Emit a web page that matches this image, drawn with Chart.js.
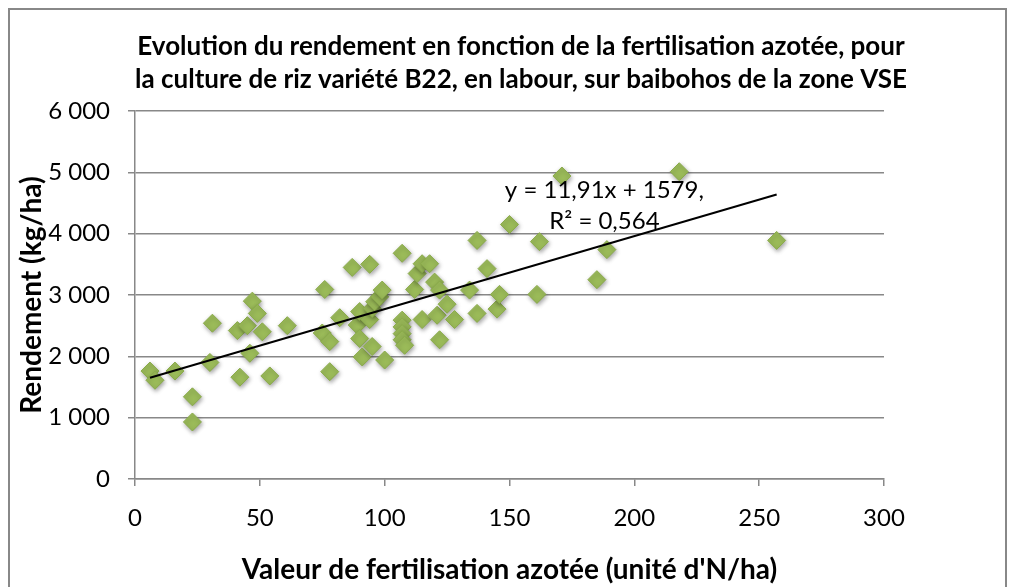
<!DOCTYPE html>
<html>
<head>
<meta charset="utf-8">
<script src="https://cdn.jsdelivr.net/npm/chart.js@4.4.1/dist/chart.umd.min.js"></script>
<style>
  html, body { margin: 0; padding: 0; background: #fff; overflow: hidden; }
</style>
</head>
<body>
<canvas id="rendementChart" width="1010" height="587"></canvas>
<script>
// ---- données ----
const fertilisation = [6, 8, 16, 23, 23, 31, 30, 41, 42, 45, 47, 49, 51, 46, 54, 61,
  75, 76, 78, 78, 82, 87, 94, 89, 90, 90, 91, 94, 95, 96, 95, 98, 99, 100,
  107, 107, 107, 107, 107, 108, 112, 113, 115, 118, 115, 120, 121, 122, 122,
  125, 128, 134, 137, 137, 141, 145, 146, 150, 161, 162, 171, 185, 189, 218, 257];
const rendement = [1760, 1610, 1760, 1340, 930, 2540, 1900, 2420, 1660, 2500, 2900, 2700, 2400, 2050, 1680, 2500,
  2380, 3090, 2240, 1750, 2630, 3450, 3500, 2510, 2730, 2290, 1990, 2600, 2780, 2890, 2160, 2970, 3080, 1940,
  3680, 2590, 2480, 2370, 2270, 2180, 3090, 3350, 3510, 3510, 2600, 3210, 2670, 3080, 2270,
  2850, 2600, 3080, 3890, 2700, 3430, 2770, 3010, 4150, 3010, 3870, 4940, 3250, 3740, 5010, 3890];
const xTicks = [0, 50, 100, 150, 200, 250, 300];
const yTicks = [0, 1000, 2000, 3000, 4000, 5000, 6000];

// courbe de tendance linéaire (Excel)
const pente = 11.91;
const ordonnee = 1579;
const r2 = 0.564;

const titreLignes = [
  'Evolution du rendement en fonction de la fertilisation azotée, pour',
  'la culture de riz variété B22, en labour, sur baibohos de la zone VSE'
];

const police = 'Lato, "Open Sans", sans-serif';
const gris = '#888888';

Chart.defaults.font.family = police;
Chart.defaults.color = '#000';

const formatFr = v => String(v).replace(/\B(?=(\d{3})+(?!\d))/g, ' ');
const virgule = v => String(v).replace('.', ',');

const xMin = Math.min(...fertilisation);
const xMax = Math.max(...fertilisation);

// fond blanc + cadre du graphique
const cadrePlugin = {
  id: 'cadre',
  beforeDraw(chart) {
    const ctx = chart.ctx;
    ctx.save();
    ctx.fillStyle = '#fff';
    ctx.fillRect(0, 0, chart.width, chart.height);
    ctx.strokeStyle = gris;
    ctx.lineWidth = 2;
    ctx.strokeRect(9, 9, 997, 600);
    ctx.restore();
  }
};

// titre sur deux lignes
const titrePlugin = {
  id: 'titre',
  afterDraw(chart) {
    const ctx = chart.ctx;
    ctx.save();
    ctx.font = 'bold 26px ' + police;
    ctx.fillStyle = '#000';
    ctx.textAlign = 'center';
    ctx.textBaseline = 'middle';
    ctx.fillText(titreLignes[0], 521, 47);
    ctx.fillText(titreLignes[1], 521, 80);
    ctx.restore();
  }
};

// ombre sous les losanges
const ombrePlugin = {
  id: 'ombre',
  beforeDatasetDraw(chart, args) {
    if (args.index !== 1) return;
    const ctx = chart.ctx;
    ctx.save();
    ctx.shadowColor = 'rgba(0,0,0,0.35)';
    ctx.shadowBlur = 4;
    ctx.shadowOffsetX = 1;
    ctx.shadowOffsetY = 2;
  },
  afterDatasetDraw(chart, args) {
    if (args.index !== 1) return;
    chart.ctx.restore();
  }
};

// équation de la tendance
const equationPlugin = {
  id: 'equation',
  afterDatasetsDraw(chart) {
    const { ctx, scales } = chart;
    const x = scales.x.getPixelForValue(188);
    ctx.save();
    ctx.font = '24px ' + police;
    ctx.fillStyle = '#000';
    ctx.textAlign = 'center';
    ctx.textBaseline = 'middle';
    ctx.fillText('y = ' + virgule(pente) + 'x + ' + ordonnee + ',', x, scales.y.getPixelForValue(4700));
    ctx.fillText('R² = ' + virgule(r2), x, scales.y.getPixelForValue(4200));
    ctx.restore();
  }
};

const ctx = document.getElementById('rendementChart');
new Chart(ctx, {
  type: 'scatter',
  data: {
    datasets: [
      {
        type: 'line',
        label: 'Tendance',
        data: [xMin, xMax].map(x => ({ x: x, y: pente * x + ordonnee })),
        borderColor: '#000',
        borderWidth: 2,
        pointRadius: 0,
        fill: false,
        order: 0
      },
      {
        label: 'Rendement',
        data: fertilisation.map((x, i) => ({ x: x, y: rendement[i] })),
        pointStyle: 'rectRot',
        pointRadius: 9,
        pointHoverRadius: 9,
        backgroundColor: '#9BBB59',
        borderColor: '#8AAB4A',
        borderWidth: 1,
        order: 1
      }
    ]
  },
  options: {
    responsive: false,
    animation: false,
    layout: { padding: { top: 111, right: 126, bottom: 0, left: 0 } },
    plugins: {
      legend: { display: false },
      tooltip: { enabled: false }
    },
    scales: {
      x: {
        type: 'linear',
        min: 0,
        max: 300,
        afterBuildTicks: s => { s.ticks = xTicks.map(v => ({ value: v })); },
        afterFit: s => { s.height = 108; },
        ticks: { font: { size: 24 }, color: '#000', padding: 18 },
        grid: { drawOnChartArea: false, drawTicks: true, tickLength: 7, color: gris, lineWidth: 1.5 },
        border: { color: gris, width: 1.5 },
        title: {
          display: true,
          text: "Valeur de fertilisation azotée (unité d'N/ha)",
          font: { size: 28, weight: 'bold' },
          color: '#000',
          padding: { bottom: 0 }
        }
      },
      y: {
        min: 0,
        max: 6000,
        afterBuildTicks: s => { s.ticks = yTicks.map(v => ({ value: v })); },
        afterFit: s => { s.width = 135; },
        ticks: { font: { size: 24 }, color: '#000', padding: 18, callback: v => formatFr(v) },
        grid: { drawTicks: true, tickLength: 7, color: gris, lineWidth: 1.5 },
        border: { color: gris, width: 1.5 },
        title: {
          display: true,
          text: 'Rendement (kg/ha)',
          font: { size: 28, weight: 'bold' },
          color: '#000',
          padding: { top: 15 }
        }
      }
    }
  },
  plugins: [cadrePlugin, titrePlugin, ombrePlugin, equationPlugin]
});
</script>
</body>
</html>
